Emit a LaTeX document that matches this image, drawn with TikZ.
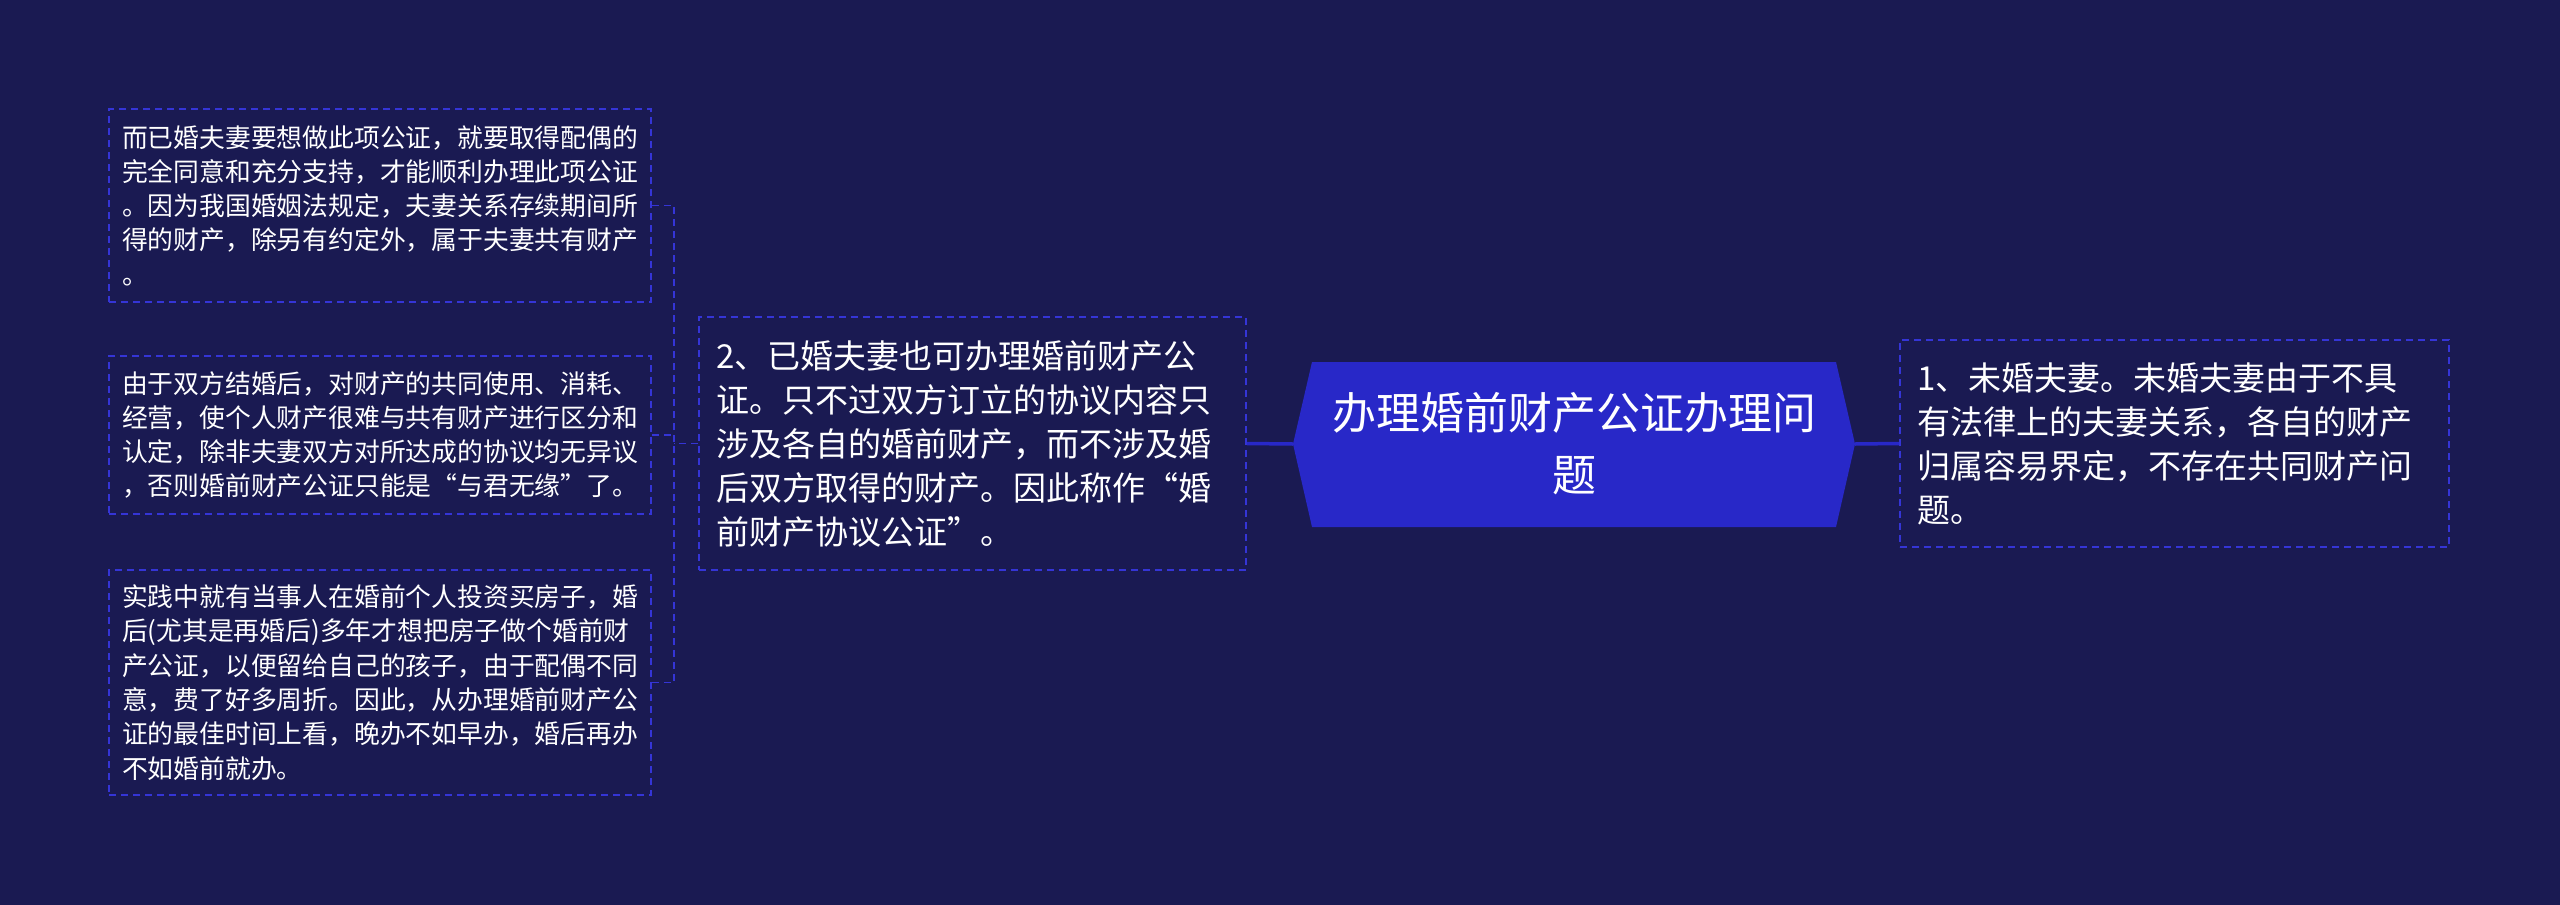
\documentclass[tikz,border=0pt]{standalone}
\usepackage{fontspec}
\setmainfont{Noto Sans CJK SC}
\definecolor{bg}{HTML}{1A1A52}
\definecolor{rootfill}{HTML}{2828C8}
\definecolor{dashblue}{HTML}{3535D6}
\tikzset{
  leafbox/.style={draw=dashblue, dashed, dash pattern=on 7pt off 5pt, line width=1.6pt, text=white, align=left,
     font=\fontsize{25.8}{34.3}\selectfont, inner xsep=13pt, inner ysep=0pt},
  bigbox/.style={draw=dashblue, dashed, dash pattern=on 7pt off 5pt, line width=1.6pt, text=white, align=left,
     font=\fontsize{33}{44}\selectfont, inner xsep=17pt, inner ysep=0pt},
  rootconn/.style={draw=rootfill, line width=3.5pt},
  leafconn/.style={draw=dashblue, line width=1.6pt, dash pattern=on 7pt off 5pt},
}
\begin{document}
\begin{tikzpicture}[x=1pt,y=-1pt]
\fill[bg] (0,0) rectangle (2560,905);
\useasboundingbox (0,0) rectangle (2560,905);

% root hexagon
\fill[rootfill] (1293,444) -- (1312,362) -- (1836,362) -- (1855,444) -- (1836,527) -- (1312,527) -- cycle;
\node[text=white, align=center, font=\fontsize{44}{62}\selectfont] (root) at (1574,444)
  {办理婚前财产公证办理问\\题};
\coordinate (rootL) at (1293,444);
\coordinate (rootR) at (1855,444);

% mid node
\node[bigbox, minimum width=547pt, minimum height=253pt, text width=513pt] (mid) at (972.5,443.5)
{2、已婚夫妻也可办理婚前财产公\\证。只不过双方订立的协议内容只\\涉及各自的婚前财产，而不涉及婚\\后双方取得的财产。因此称作“婚\\前财产协议公证”。};

% right node
\node[bigbox, minimum width=549pt, minimum height=207pt, text width=515pt] (right) at (2174.5,443.5)
{1、未婚夫妻。未婚夫妻由于不具\\有法律上的夫妻关系，各自的财产\\归属容易界定，不存在共同财产问\\题。};

% leaves
\node[leafbox, minimum width=542pt, minimum height=193pt, text width=516pt] (l1) at (380,205.5)
{而已婚夫妻要想做此项公证，就要取得配偶的\\完全同意和充分支持，才能顺利办理此项公证\\。因为我国婚姻法规定，夫妻关系存续期间所\\得的财产，除另有约定外，属于夫妻共有财产\\。};
\node[leafbox, minimum width=542pt, minimum height=158pt, text width=516pt] (l2) at (380,435)
{由于双方结婚后，对财产的共同使用、消耗、\\经营，使个人财产很难与共有财产进行区分和\\认定，除非夫妻双方对所达成的协议均无异议\\，否则婚前财产公证只能是“与君无缘”了。};
\node[leafbox, minimum width=542pt, minimum height=225pt, text width=516pt] (l3) at (380,682.5)
{实践中就有当事人在婚前个人投资买房子，婚\\后(尤其是再婚后)多年才想把房子做个婚前财\\产公证，以便留给自己的孩子，由于配偶不同\\意，费了好多周折。因此，从办理婚前财产公\\证的最佳时间上看，晚办不如早办，婚后再办\\不如婚前就办。};

% connectors
\draw[rootconn] (rootL) -- (mid.east);
\draw[rootconn] (rootR) -- (right.west);
\coordinate (jx) at (674,443.5);
\draw[leafconn] (mid.west) -- (jx);
\draw[leafconn] (l1.east) -| (jx);
\draw[leafconn] (l3.east) -| (jx);
\draw[leafconn] (l2.east) -- (l2.east -| jx);
\end{tikzpicture}
\end{document}
